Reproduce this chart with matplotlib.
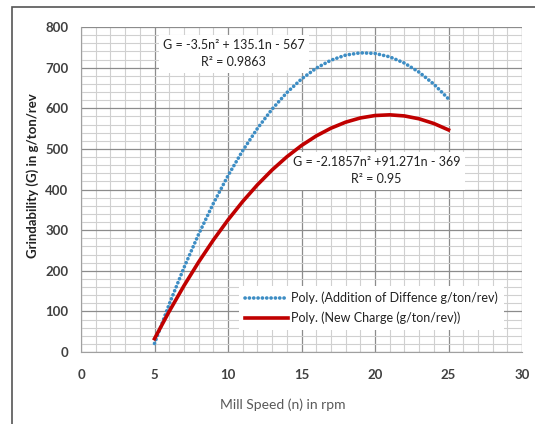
import matplotlib
matplotlib.use("Agg")
import matplotlib.pyplot as plt
from matplotlib.patches import Rectangle

# Data (trendline values at integer mill speeds)
speed = [5, 6, 7, 8, 9, 10, 11, 12, 13, 14, 15, 16, 17, 18, 19, 20, 21, 22, 23, 24, 25]
addition_diff = [21, 117.6, 207.2, 289.8, 365.4, 434, 495.6, 550.2, 597.8, 638.4, 672,
                 698.6, 718.2, 730.8, 736.4, 735, 726.6, 711.2, 688.8, 659.4, 623]
new_charge = [32.7, 99.9, 162.8, 221.3, 275.4, 325.1, 370.5, 411.5, 448.1, 480.4, 508.3,
              531.8, 550.9, 565.7, 576.1, 582.1, 583.8, 581.1, 574.0, 562.5, 546.7]
series_labels = ["Poly. (Addition of Diffence g/ton/rev)", "Poly. (New Charge (g/ton/rev))"]
x_ticks = [0, 5, 10, 15, 20, 25, 30]
y_ticks = [0, 100, 200, 300, 400, 500, 600, 700, 800]
x_minor = list(range(0, 31))
y_minor = list(range(0, 801, 20))
eq1 = "G = -3.5n\u00b2 + 135.1n - 567\nR\u00b2 = 0.9863"
eq2 = "G = -2.1857n\u00b2 +91.271n - 369\nR\u00b2 = 0.95"

plt.rcParams['font.family'] = ['Lato', 'DejaVu Sans']

W, H = 535, 424
fig = plt.figure(figsize=(W / 100, H / 100), dpi=100)

# outer frame
fig.patches.append(Rectangle((12 / W, -0.1), 1.2, 1.1 - 7 / H, transform=fig.transFigure,
                             fill=False, edgecolor='#555555', linewidth=1.2, figure=fig))

ax = fig.add_axes([81 / W, 1 - 352 / H, (522 - 81) / W, (352 - 27) / H])
ax.set_xlim(0, 30)
ax.set_ylim(0, 800)
ax.set_xticks(x_ticks)
ax.set_xticklabels([str(v) for v in x_ticks], fontweight='bold')
ax.set_yticks(y_ticks)
ax.set_yticklabels([str(v) for v in y_ticks], fontweight='bold')
ax.set_xticks(x_minor, minor=True)
ax.set_yticks(y_minor, minor=True)
ax.grid(which='major', color='#8c8c8c', linewidth=0.9)
ax.grid(which='minor', color='#d0d0d0', linewidth=0.8)
ax.set_axisbelow(True)
for s in ['top', 'right']:
    ax.spines[s].set_visible(False)
for s in ['left', 'bottom']:
    ax.spines[s].set_color('#a0a0a0')
ax.tick_params(which='both', length=0, labelsize=9.5, labelcolor='#404040')
ax.tick_params(axis='x', pad=12)
ax.tick_params(axis='y', pad=9)

ax.text(10.4, 734, eq1, ha='center', va='center', fontsize=9, color='#222222',
        linespacing=1.5, zorder=1.5,
        bbox=dict(boxstyle='square,pad=0.35', facecolor='white', edgecolor='none'))
ax.text(20.1, 446, eq2, ha='center', va='center', fontsize=9, color='#222222',
        linespacing=1.5, zorder=1.5,
        bbox=dict(boxstyle='square,pad=0.35', facecolor='white', edgecolor='none'))

ax.plot(speed, addition_diff, color='#3d8dc4', linestyle=(0, (0.05, 1.15)), linewidth=2.6,
        dash_capstyle='round', label=series_labels[0], zorder=3)
ax.plot(speed, new_charge, color='#c00000', linewidth=2.6, label=series_labels[1], zorder=3)

leg = ax.legend(loc='lower left', bbox_to_anchor=(0.345, 0.05), fontsize=9,
                frameon=True, fancybox=False, edgecolor='none', facecolor='white',
                framealpha=1, handlelength=3.4, handletextpad=0.3, labelspacing=0.55,
                borderpad=0.45)
for t in leg.get_texts():
    t.set_color('#222222')

fig.text(283 / W, 1 - 405 / H, "Mill Speed (n) in rpm", ha='center', va='center',
         fontsize=10, color='#595959')
fig.text(33 / W, 1 - 176 / H, "Grindability (G) in g/ton/rev", ha='center', va='center',
         rotation=90, fontsize=9.5, fontweight='bold', color='#222222')

fig.savefig("out.png", dpi=100)
